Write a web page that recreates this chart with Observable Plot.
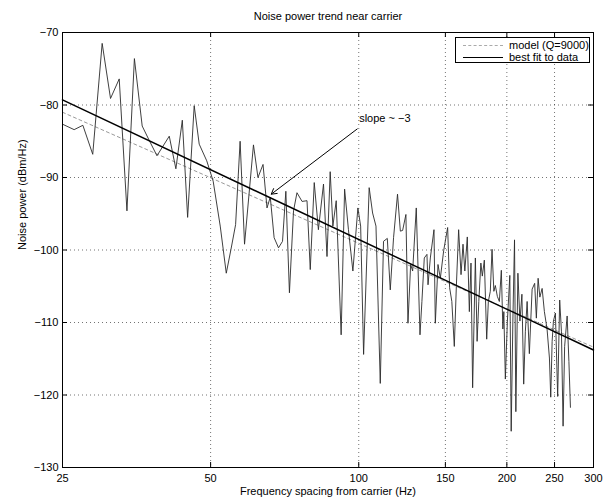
<!DOCTYPE html>
<html>
<head>
<meta charset="utf-8">
<script src="https://cdn.jsdelivr.net/npm/d3@7"></script>
<script src="https://cdn.jsdelivr.net/npm/@observablehq/plot@0.6"></script>
<style>
  html, body { margin: 0; padding: 0; background: white; }
  #wrap { position: relative; width: 611px; height: 502px; font-family: "Liberation Sans", Arial, Helvetica, sans-serif; }
  #legend { position: absolute; left: 455px; top: 37px; width: 135px; height: 26px; border: 1px solid black; background: white; font-size: 11px; box-sizing: border-box; }
  .row { position: absolute; left: 0; height: 12px; line-height: 12px; white-space: nowrap; }
  .sample { position: absolute; left: 7px; width: 40px; top: 6px; height: 0; }
  .lab { position: absolute; left: 53px; top: 0; }
</style>
</head>
<body>
<div id="wrap">
  <div id="chart"></div>
  <div id="legend">
    <div class="row" style="top:1px;width:100%"><div class="sample" style="border-top:1px dashed #aaa"></div><span class="lab" id="lg0"></span></div>
    <div class="row" style="top:13px;width:100%"><div class="sample" style="border-top:1px solid black"></div><span class="lab" id="lg1"></span></div>
  </div>
</div>
<script>
// ---- data ----
const freqs = [25.1,26.4,27.5,28.8,30.1,31.3,32.6,33.8,35.0,36.3,
  37.4,38.9,41.2,42.5,43.8,44.9,46.3,47.4,49.1,50.6,
  52.3,53.8,55.0,56.2,57.4,58.6,61.1,62.4,63.9,65.1,
  66.1,67.3,68.7,70.0,71.1,72.3,73.7,74.9,76.7,78.5,
  79.7,81.2,82.8,84.8,86.2,87.5,88.6,90.0,92.1,93.6,
  95.3,97.3,99.6,100.9,102.3,105.0,106.7,108.4,110.6,112.3,
  114.3,115.9,117.7,119.9,121.5,122.8,124.7,125.9,127.5,128.7,
  130.9,133.2,134.4,135.9,137.6,138.3,139.8,142.2,143.1,144.9,
  146.5,148.8,151.6,153.0,154.6,156.4,157.9,159.6,161.4,162.9,
  164.3,166.2,167.8,169.1,170.4,172.6,174.0,175.4,177.1,178.3,
  180.0,182.0,183.4,185.1,186.6,188.2,189.5,191.3,193.1,194.9,
  196.3,197.2,198.6,200.5,202.8,204.1,205.7,207.3,208.6,210.6,
  212.6,214.6,216.4,218.1,219.9,222.2,225.1,227.8,229.6,231.5,
  233.4,235.9,238.4,241.4,244.1,245.6,247.2,248.7,251.0,253.7,
  256.1,258.2,260.2,262.1,265.2,267.4,269.3];
const power = [-82.7,-83.4,-82.8,-86.8,-71.5,-79.1,-76.4,-94.6,-73.6,-82.9,
  -84.7,-87.0,-84.3,-88.8,-82.1,-95.5,-80.1,-85.4,-87.7,-90.5,
  -96.7,-103.2,-99.9,-96.5,-85.0,-99.2,-85.5,-90.0,-88.2,-94.2,
  -92.7,-98.3,-99.7,-98.8,-91.9,-105.9,-94.6,-92.1,-93.3,-93.2,
  -102.7,-90.7,-97.2,-90.9,-100.9,-89.2,-96.7,-93.2,-111.7,-91.6,
  -97.2,-102.9,-94.2,-96.7,-114.4,-91.4,-94.9,-96.7,-118.4,-98.8,
  -98.4,-105.5,-98.3,-92.3,-97.4,-97.3,-95.1,-110.1,-102.0,-102.9,
  -94.2,-111.7,-107.1,-101.1,-100.6,-104.8,-101.1,-97.2,-110.1,-102.0,
  -103.9,-100.1,-96.9,-105.2,-107.1,-113.3,-105.0,-97.2,-103.4,-99.2,
  -102.9,-98.2,-108.5,-101.8,-119.0,-101.1,-112.6,-107.1,-101.8,-103.6,
  -101.4,-112.3,-107.1,-105.7,-99.9,-105.7,-104.9,-106.4,-107.1,-102.8,
  -110.9,-108.5,-117.8,-109.8,-103.5,-125.0,-109.8,-98.6,-122.3,-103.2,
  -109.8,-106.1,-118.5,-111.2,-107.1,-114.3,-105.4,-104.6,-109.4,-103.9,
  -106.5,-105.3,-108.5,-110.9,-114.9,-120.3,-112.6,-109.8,-108.7,-120.2,
  -106.9,-111.2,-124.3,-113.3,-109.1,-115.4,-121.7];

const fitFreqs = [25, 300];
const fitPower = [-79.3, -113.8];
const modelFreqs = [25, 300];
const modelPower = [-81.0, -113.4];

const xTicks = [25, 50, 100, 150, 200, 250, 300];
const yTicks = [-70, -80, -90, -100, -110, -120, -130];
const xTicksInner = [50, 100, 150, 200, 250];

const seriesNames = ["model (Q=9000)", "best fit to data"];
const titleText = "Noise power trend near carrier";
const xLabel = "Frequency spacing from carrier (Hz)";
const yLabel = "Noise power (dBm/Hz)";
const annotation = [{text: "slope ~ \u22123", f: 113, p: -81.9}];
const arrowData = [{f1: 99.3, p1: -83.3, f2: 66.4, p2: -92.3}];

// ---- build tables ----
const data = freqs.map((f, i) => ({f, p: power[i]}));
const fit = fitFreqs.map((f, i) => ({f, p: fitPower[i]}));
const model = modelFreqs.map((f, i) => ({f, p: modelPower[i]}));

const W = 611, H = 502, mT = 32, mB = 35, mL = 62, mR = 18;
const innerH = H - mT - mB, innerW = W - mL - mR;
const minus = d => d < 0 ? "\u2212" + Math.abs(d) : String(d);

const chart = Plot.plot({
  width: W, height: H,
  marginTop: mT, marginBottom: mB, marginLeft: mL, marginRight: mR,
  style: {fontFamily: '"Liberation Sans", Arial, Helvetica, sans-serif', fontSize: "11px", background: "white", color: "black", overflow: "visible"},
  x: {type: "log", domain: [25, 300]},
  y: {domain: [-130, -70]},
  marks: [
    Plot.gridX(xTicksInner, {stroke: "black", strokeOpacity: 0.55, strokeDasharray: "1,3"}),
    Plot.gridY(yTicks.slice(1, -1), {stroke: "black", strokeOpacity: 0.55, strokeDasharray: "1,3"}),
    Plot.line(model, {x: "f", y: "p", stroke: "#999", strokeWidth: 1, strokeDasharray: "3,3"}),
    Plot.line(data, {x: "f", y: "p", stroke: "#2a2a2a", strokeWidth: 0.9}),
    Plot.line(fit, {x: "f", y: "p", stroke: "black", strokeWidth: 1.5}),
    Plot.frame({stroke: "black", strokeWidth: 1}),
    Plot.tickX(xTicksInner, {x: d => d, insetTop: innerH - 5, stroke: "black"}),
    Plot.tickX(xTicksInner, {x: d => d, insetBottom: innerH - 5, stroke: "black"}),
    Plot.tickY(yTicks, {y: d => d, insetRight: innerW - 5, stroke: "black"}),
    Plot.tickY(yTicks, {y: d => d, insetLeft: innerW - 5, stroke: "black"}),
    Plot.axisX(xTicks, {tickSize: 0, tickPadding: 7, tickFormat: d => String(d), label: null, fontSize: 11}),
    Plot.axisY(yTicks, {tickSize: 0, tickPadding: 4, tickFormat: minus, label: null, fontSize: 11}),
    Plot.arrow(arrowData, {x1: "f1", y1: "p1", x2: "f2", y2: "p2", stroke: "black", strokeWidth: 1, headLength: 9}),
    Plot.text(annotation, {x: "f", y: "p", text: "text", fontSize: 11, fill: "black"}),
    Plot.text([titleText], {frameAnchor: "top", dy: -20, fontSize: 11, fill: "black"}),
    Plot.text([xLabel], {frameAnchor: "bottom", dy: 27, fontSize: 11, fill: "black"}),
    Plot.text([yLabel], {frameAnchor: "left", dx: -40, rotate: -90, fontSize: 11, fill: "black"})
  ]
});
document.getElementById("chart").appendChild(chart);
document.getElementById("lg0").textContent = seriesNames[0];
document.getElementById("lg1").textContent = seriesNames[1];
</script>
</body>
</html>
